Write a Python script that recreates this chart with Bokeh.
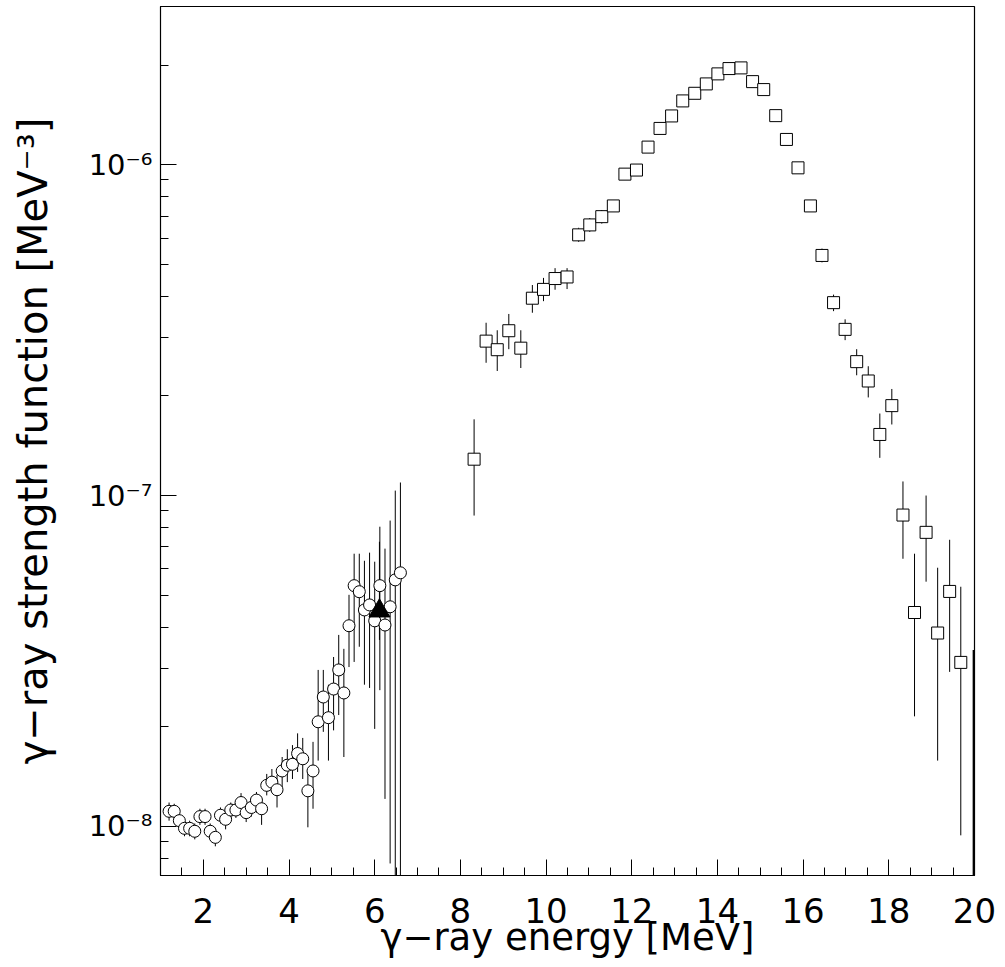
from bokeh.plotting import figure
from bokeh.models import Range1d, FixedTicker, CustomJSTickFormatter
from bokeh.embed import file_html
from bokeh.resources import INLINE

# ---------------- data ----------------
# low-energy points (open circles)
circ_E = [1.20, 1.32, 1.44, 1.56, 1.68, 1.80, 1.92, 2.04, 2.16, 2.28,
          2.40, 2.52, 2.64, 2.76, 2.88, 3.00, 3.12, 3.24, 3.36, 3.48,
          3.60, 3.72, 3.84, 3.96, 4.08, 4.20, 4.32, 4.44, 4.56, 4.68,
          4.80, 4.92, 5.04, 5.16, 5.28, 5.40, 5.52, 5.64, 5.76, 5.88,
          6.00, 6.12, 6.24, 6.36, 6.48, 6.60]
circ_val = [1.11e-8, 1.11e-8, 1.04e-8, 9.86e-9, 9.86e-9, 9.66e-9, 1.07e-8, 1.07e-8, 9.66e-9, 9.26e-9,
            1.08e-8, 1.05e-8, 1.12e-8, 1.12e-8, 1.18e-8, 1.10e-8, 1.14e-8, 1.20e-8, 1.13e-8, 1.33e-8,
            1.36e-8, 1.29e-8, 1.47e-8, 1.53e-8, 1.54e-8, 1.66e-8, 1.60e-8, 1.28e-8, 1.47e-8, 2.07e-8,
            2.46e-8, 2.13e-8, 2.60e-8, 2.97e-8, 2.53e-8, 4.04e-8, 5.34e-8, 5.12e-8, 4.51e-8, 4.67e-8,
            4.18e-8, 5.34e-8, 4.06e-8, 4.61e-8, 5.56e-8, 5.84e-8]
circ_lo = [1.04e-8, 1.05e-8, 9.79e-9, 9.33e-9, 9.33e-9, 9.13e-9, 1.01e-8, 1.01e-8, 9.13e-9, 8.70e-9,
           1.02e-8, 9.79e-9, 1.06e-8, 1.06e-8, 1.12e-8, 1.03e-8, 1.07e-8, 1.10e-8, 1.01e-8, 1.24e-8,
           1.27e-8, 1.14e-8, 1.31e-8, 1.36e-8, 1.39e-8, 1.46e-8, 1.39e-8, 9.93e-9, 1.13e-8, 1.58e-8,
           1.93e-8, 1.58e-8, 1.95e-8, 2.17e-8, 1.62e-8, 3.03e-8, 3.14e-8, 3.49e-8, 2.68e-8, 2.62e-8,
           1.97e-8, 2.58e-8, 1.21e-8, 7.72e-9, 5.0e-9, 5.0e-9]
circ_hi = [1.18e-8, 1.17e-8, 1.10e-8, 1.04e-8, 1.04e-8, 1.02e-8, 1.13e-8, 1.13e-8, 1.02e-8, 9.79e-9,
           1.14e-8, 1.12e-8, 1.18e-8, 1.18e-8, 1.26e-8, 1.17e-8, 1.22e-8, 1.27e-8, 1.21e-8, 1.44e-8,
           1.49e-8, 1.43e-8, 1.62e-8, 1.71e-8, 1.76e-8, 1.91e-8, 1.85e-8, 1.46e-8, 1.80e-8, 2.97e-8,
           2.97e-8, 2.68e-8, 3.25e-8, 3.79e-8, 3.44e-8, 5.01e-8, 6.67e-8, 6.67e-8, 6.35e-8, 6.72e-8,
           6.31e-8, 8.05e-8, 6.91e-8, 8.40e-8, 1.035e-7, 1.095e-7]

# single filled-triangle point
tri_E = [6.11]
tri_val = [4.48e-8]
tri_lo = [3.66e-8]
tri_hi = [7.25e-8]

# high-energy points (open squares)
sq_E = [8.32, 8.60, 8.86, 9.13, 9.41, 9.68, 9.94, 10.21, 10.49, 10.76,
        11.02, 11.30, 11.57, 11.84, 12.11, 12.38, 12.66, 12.93, 13.19, 13.47,
        13.74, 14.01, 14.27, 14.55, 14.82, 15.08, 15.36, 15.61, 15.88, 16.17,
        16.44, 16.71, 16.98, 17.25, 17.52, 17.79, 18.07, 18.33, 18.60, 18.87,
        19.14, 19.42, 19.68]
sq_val = [1.288e-7, 2.93e-7, 2.76e-7, 3.15e-7, 2.79e-7, 3.95e-7, 4.20e-7, 4.53e-7, 4.58e-7, 6.14e-7,
          6.58e-7, 6.97e-7, 7.51e-7, 9.37e-7, 9.64e-7, 1.131e-6, 1.288e-6, 1.405e-6, 1.560e-6, 1.645e-6,
          1.756e-6, 1.883e-6, 1.954e-6, 1.963e-6, 1.784e-6, 1.688e-6, 1.408e-6, 1.193e-6, 9.79e-7, 7.51e-7,
          5.32e-7, 3.83e-7, 3.18e-7, 2.54e-7, 2.22e-7, 1.53e-7, 1.87e-7, 8.73e-8, 4.43e-8, 7.74e-8,
          3.84e-8, 5.13e-8, 3.13e-8]
sq_lo = [8.70e-8, 2.52e-7, 2.38e-7, 2.77e-7, 2.43e-7, 3.57e-7, 3.87e-7, 4.19e-7, 4.21e-7, 5.85e-7,
         6.27e-7, 6.64e-7, 7.20e-7, 9.10e-7, 9.35e-7, 1.10e-6, 1.25e-6, 1.37e-6, 1.52e-6, 1.60e-6,
         1.71e-6, 1.83e-6, 1.90e-6, 1.91e-6, 1.74e-6, 1.64e-6, 1.37e-6, 1.16e-6, 9.45e-7, 7.20e-7,
         5.07e-7, 3.61e-7, 2.95e-7, 2.31e-7, 1.98e-7, 1.30e-7, 1.64e-7, 6.44e-8, 2.15e-8, 5.49e-8,
         1.58e-8, 2.93e-8, 9.39e-9]
sq_hi = [1.70e-7, 3.33e-7, 3.16e-7, 3.54e-7, 3.16e-7, 4.33e-7, 4.55e-7, 4.87e-7, 4.87e-7, 6.45e-7,
         6.90e-7, 7.30e-7, 7.80e-7, 9.65e-7, 9.95e-7, 1.16e-6, 1.32e-6, 1.44e-6, 1.60e-6, 1.69e-6,
         1.80e-6, 1.93e-6, 2.00e-6, 2.02e-6, 1.83e-6, 1.73e-6, 1.45e-6, 1.23e-6, 1.01e-6, 7.80e-7,
         5.58e-7, 4.05e-7, 3.41e-7, 2.77e-7, 2.46e-7, 1.77e-7, 2.10e-7, 1.103e-7, 6.67e-8, 1.0e-7,
         6.05e-8, 7.35e-8, 5.30e-8]

# error bar of a point lying at the right edge
edge_E = [19.98]
edge_lo = [5.0e-9]
edge_hi = [3.41e-8]

# axis ticks
x_major = [2, 4, 6, 8, 10, 12, 14, 16, 18, 20]
x_minor = [1, 1.5, 2.5, 3, 3.5, 4.5, 5, 5.5, 6.5, 7, 7.5, 8.5, 9, 9.5, 10.5, 11, 11.5,
           12.5, 13, 13.5, 14.5, 15, 15.5, 16.5, 17, 17.5, 18.5, 19, 19.5]
y_major = [1e-8, 1e-7, 1e-6]
y_labels = ["10\u207b\u2078", "10\u207b\u2077", "10\u207b\u2076"]
y_minor = [m * d for d in (1e-9, 1e-8, 1e-7, 1e-6) for m in (2, 3, 4, 5, 6, 7, 8, 9)]

FONT = "DejaVu Sans"

p = figure(width=1005, height=967,
           x_range=Range1d(1, 20), y_range=Range1d(7.10e-9, 3.01e-6),
           y_axis_type="log", output_backend="svg", toolbar_location=None,
           min_border_left=160, min_border_right=31, min_border_top=6, min_border_bottom=92)

p.xgrid.visible = False
p.ygrid.visible = False
p.outline_line_color = "black"
p.outline_line_width = 1.2
p.background_fill_color = "white"
p.border_fill_color = "white"

# x axis
xa = p.xaxis[0]
xa.ticker = FixedTicker(ticks=x_major, minor_ticks=x_minor)
xa.major_tick_in = 16
xa.major_tick_out = 0
xa.minor_tick_in = 8
xa.minor_tick_out = 0
xa.major_label_text_font = FONT
xa.major_label_text_font_size = "34px"
xa.major_label_text_color = "black"
xa.major_label_standoff = 22
xa.axis_label = "\u03b3\u2212ray energy [MeV]"
xa.axis_label_text_font = FONT
xa.axis_label_text_font_size = "37px"
xa.axis_label_text_font_style = "normal"
xa.axis_label_text_color = "black"
xa.axis_label_standoff = -10
xa.axis_line_color = "black"
xa.major_tick_line_color = "black"
xa.minor_tick_line_color = "black"

# y axis
ya = p.yaxis[0]
ya.ticker = FixedTicker(ticks=y_major, minor_ticks=y_minor)
ya.formatter = CustomJSTickFormatter(
    args=dict(tv=y_major, tl=y_labels),
    code="""
    let best = 0, bd = 1e9;
    for (let i = 0; i < tv.length; i++) {
        const d = Math.abs(Math.log10(tick) - Math.log10(tv[i]));
        if (d < bd) { bd = d; best = i; }
    }
    return tl[best];
    """)
ya.major_tick_in = 16
ya.major_tick_out = 0
ya.minor_tick_in = 8
ya.minor_tick_out = 0
ya.major_label_text_font = FONT
ya.major_label_text_font_size = "29px"
ya.major_label_text_color = "black"
ya.major_label_standoff = 8
ya.axis_label = "\u03b3\u2212ray strength function [MeV\u207b\u00b3]"
ya.axis_label_text_font = FONT
ya.axis_label_text_font_size = "40px"
ya.axis_label_text_font_style = "normal"
ya.axis_label_text_color = "black"
ya.axis_label_standoff = 30
ya.axis_line_color = "black"
ya.major_tick_line_color = "black"
ya.minor_tick_line_color = "black"

# error bars
p.segment(x0=circ_E, y0=circ_lo, x1=circ_E, y1=circ_hi, line_color="black", line_width=1)
p.segment(x0=sq_E, y0=sq_lo, x1=sq_E, y1=sq_hi, line_color="black", line_width=1)
p.segment(x0=tri_E, y0=tri_lo, x1=tri_E, y1=tri_hi, line_color="black", line_width=1)
p.segment(x0=edge_E, y0=edge_lo, x1=edge_E, y1=edge_hi, line_color="black", line_width=2)

# markers
p.scatter(circ_E, circ_val, marker="circle", size=12, fill_color="white",
          line_color="black", line_width=1)
p.scatter(sq_E, sq_val, marker="square", size=12, fill_color="white",
          line_color="black", line_width=1)
p.scatter(tri_E, tri_val, marker="triangle", size=21, fill_color="black",
          line_color="black", line_width=1)

open("out.html", "w").write(file_html(p, INLINE))
